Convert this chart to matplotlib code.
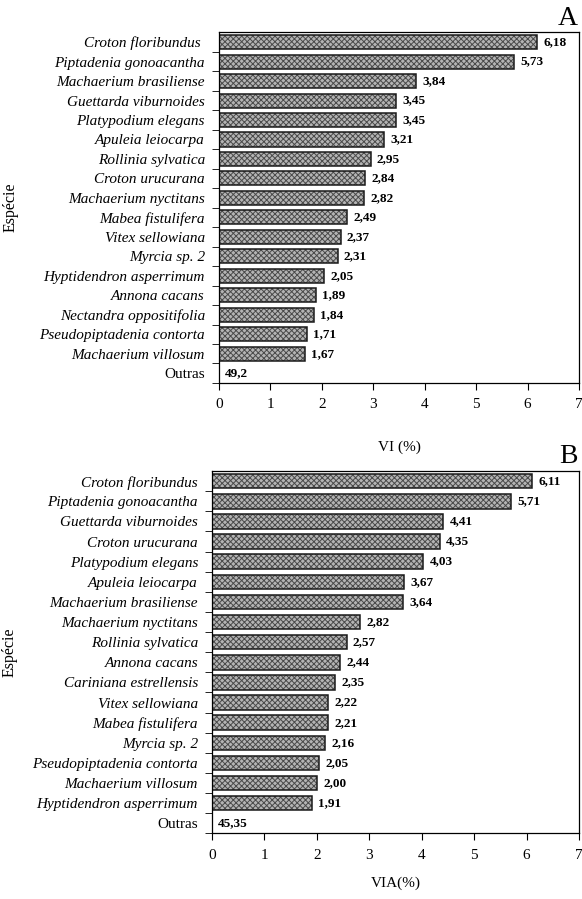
import matplotlib.pyplot as plt

plt.rcParams['font.family'] = ['Liberation Serif', 'DejaVu Serif']
plt.rcParams['hatch.linewidth'] = 0.7

especies_a = ["Croton floribundus ", "Piptadenia gonoacantha", "Machaerium brasiliense",
              "Guettarda viburnoides", "Platypodium elegans", "Apuleia leiocarpa",
              "Rollinia sylvatica", "Croton urucurana", "Machaerium nyctitans",
              "Mabea fistulifera", "Vitex sellowiana", "Myrcia sp. 2",
              "Hyptidendron asperrimum", "Annona cacans", "Nectandra oppositifolia",
              "Pseudopiptadenia contorta", "Machaerium villosum", "Outras"]
vi_a = [6.18, 5.73, 3.84, 3.45, 3.45, 3.21, 2.95, 2.84, 2.82, 2.49, 2.37, 2.31,
        2.05, 1.89, 1.84, 1.71, 1.67, 0]
rotulos_a = ["6,18", "5,73", "3,84", "3,45", "3,45", "3,21", "2,95", "2,84", "2,82",
             "2,49", "2,37", "2,31", "2,05", "1,89", "1,84", "1,71", "1,67", "49,2"]

especies_b = ["Croton floribundus", "Piptadenia gonoacantha", "Guettarda viburnoides",
              "Croton urucurana", "Platypodium elegans", "Apuleia leiocarpa",
              "Machaerium brasiliense", "Machaerium nyctitans", "Rollinia sylvatica",
              "Annona cacans", "Cariniana estrellensis", "Vitex sellowiana",
              "Mabea fistulifera", "Myrcia sp. 2", "Pseudopiptadenia contorta",
              "Machaerium villosum", "Hyptidendron asperrimum", "Outras"]
via_b = [6.11, 5.71, 4.41, 4.35, 4.03, 3.67, 3.64, 2.82, 2.57, 2.44, 2.35, 2.22,
         2.21, 2.16, 2.05, 2.00, 1.91, 0]
rotulos_b = ["6,11", "5,71", "4,41", "4,35", "4,03", "3,67", "3,64", "2,82", "2,57",
             "2,44", "2,35", "2,22", "2,21", "2,16", "2,05", "2,00", "1,91", "45,35"]

fig = plt.figure(figsize=(5.82, 8.99), dpi=100)
ax1 = fig.add_axes([0.376, 0.574, 0.619, 0.390])
ax2 = fig.add_axes([0.364, 0.073, 0.631, 0.403])


def painel(ax, especies, valores, rotulos, xlabel, letra, xlabel_y, ylabel_x):
    n = len(especies)
    pos = list(range(n))
    ax.barh(pos, valores, height=0.72, color='#b4b4b4', hatch='xxxxxx',
            edgecolor='#4a4a4a', linewidth=0)
    ax.barh(pos, valores, height=0.72, fill=False, edgecolor='#1a1a1a', linewidth=1.1)
    for p, v, r in zip(pos, valores, rotulos):
        ax.text(v + 0.12, p, r, va='center', ha='left', fontsize=9.5, fontweight='bold')
    ax.set_ylim(n - 0.5, -0.5)
    ax.set_xlim(0, 7)
    ax.set_yticks(pos)
    ax.set_yticklabels(especies, fontsize=11)
    for lab in ax.get_yticklabels():
        if lab.get_text() != "Outras":
            lab.set_fontstyle('italic')
    ax.set_yticks([p + 0.5 for p in pos], minor=True)
    ax.tick_params(axis='y', which='major', length=0, pad=10)
    ax.tick_params(axis='y', which='minor', length=5, direction='out')
    ax.tick_params(axis='x', length=5, direction='out', labelsize=11, pad=6)
    for s in ax.spines.values():
        s.set_linewidth(0.9)
    ax.set_xlabel(xlabel, fontsize=11)
    ax.xaxis.set_label_coords(0.5, xlabel_y)
    ax.set_ylabel("Espécie", fontsize=11.5)
    ax.yaxis.set_label_coords(ylabel_x, 0.5)
    ax.text(0.995, 1.005, letra, transform=ax.transAxes, ha='right', va='bottom',
            fontsize=20)


painel(ax1, especies_a, vi_a, rotulos_a, "VI (%)", "A", -0.165, -0.555)
painel(ax2, especies_b, via_b, rotulos_b, "VIA(%)", "B", -0.12, -0.53)

fig.savefig("out.png", dpi=100)
